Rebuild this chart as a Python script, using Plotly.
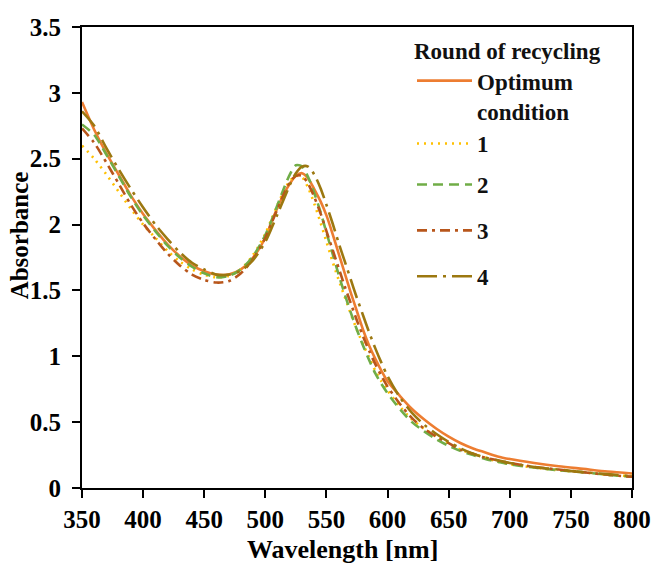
import plotly.graph_objects as go

# Wavelength grid (nm)
wavelength = [350, 360, 370, 380, 390, 400, 410, 420, 430, 440, 450, 460, 470, 480, 490, 500,
              505, 510, 515, 520, 525, 530, 535, 540, 545, 550, 555, 560, 565, 570, 575, 580,
              585, 590, 595, 600, 610, 620, 630, 640, 650, 660, 670, 680, 690, 700,
              720, 740, 760, 780, 800]

# Absorbance spectra
abs_optimum = [2.93, 2.72, 2.54, 2.38, 2.22, 2.08, 1.96, 1.85, 1.76, 1.69, 1.645, 1.62, 1.62, 1.66, 1.75, 1.90,
               2.02, 2.13, 2.23, 2.31, 2.37, 2.39, 2.35, 2.27, 2.18, 2.07, 1.93, 1.78, 1.63, 1.48, 1.34, 1.20,
               1.08, 0.98, 0.89, 0.81, 0.70, 0.60, 0.52, 0.45, 0.39, 0.34, 0.30, 0.27, 0.24, 0.22,
               0.19, 0.165, 0.145, 0.125, 0.11]
abs_round1 = [2.60, 2.50, 2.38, 2.25, 2.12, 2.00, 1.90, 1.80, 1.72, 1.66, 1.62, 1.60, 1.61, 1.66, 1.77, 1.93,
              2.04, 2.15, 2.25, 2.33, 2.37, 2.36, 2.28, 2.16, 2.02, 1.87, 1.72, 1.58, 1.45, 1.32, 1.20, 1.09,
              0.99, 0.89, 0.81, 0.74, 0.62, 0.52, 0.45, 0.39, 0.34, 0.29, 0.26, 0.23, 0.20, 0.18,
              0.155, 0.135, 0.12, 0.10, 0.09]
abs_round2 = [2.76, 2.68, 2.53, 2.37, 2.21, 2.07, 1.95, 1.84, 1.75, 1.68, 1.63, 1.60, 1.61, 1.66, 1.76, 1.92,
              2.03, 2.15, 2.27, 2.38, 2.45, 2.44, 2.36, 2.24, 2.10, 1.94, 1.78, 1.62, 1.47, 1.33, 1.20, 1.08,
              0.97, 0.87, 0.79, 0.72, 0.60, 0.50, 0.43, 0.37, 0.32, 0.28, 0.25, 0.22, 0.20, 0.18,
              0.155, 0.135, 0.12, 0.10, 0.085]
abs_round3 = [2.73, 2.62, 2.47, 2.31, 2.15, 2.01, 1.89, 1.78, 1.69, 1.62, 1.58, 1.56, 1.57, 1.63, 1.74, 1.90,
              2.01, 2.12, 2.23, 2.32, 2.37, 2.37, 2.31, 2.21, 2.09, 1.95, 1.81, 1.67, 1.53, 1.40, 1.27, 1.15,
              1.04, 0.94, 0.85, 0.77, 0.64, 0.53, 0.45, 0.39, 0.34, 0.29, 0.26, 0.23, 0.21, 0.19,
              0.16, 0.14, 0.12, 0.10, 0.085]
abs_round4 = [2.86, 2.75, 2.58, 2.42, 2.27, 2.13, 2.00, 1.89, 1.79, 1.71, 1.66, 1.62, 1.62, 1.65, 1.73, 1.87,
              1.97, 2.08, 2.19, 2.30, 2.39, 2.44, 2.44, 2.38, 2.28, 2.15, 2.01, 1.86, 1.72, 1.58, 1.44, 1.31,
              1.18, 1.06, 0.95, 0.85, 0.69, 0.57, 0.48, 0.41, 0.35, 0.30, 0.26, 0.23, 0.21, 0.19,
              0.16, 0.14, 0.12, 0.105, 0.09]

series_names = ["Optimum<br>condition", "1", "2", "3", "4"]
x_ticks = [350, 400, 450, 500, 550, 600, 650, 700, 750, 800]
y_ticks = [0, 0.5, 1, 1.5, 2, 2.5, 3, 3.5]
y_ticktext = ["0", "0.5", "1", "1.5", "2", "2.5", "3", "3.5"]

FONT = "Liberation Serif, Times New Roman, serif"

styles = [
    dict(color="#ED7D31", dash="solid"),
    dict(color="#FFC000", dash="2px,5px"),
    dict(color="#70AD47", dash="10px,6px"),
    dict(color="#B8561B", dash="10px,5px,3px,5px"),
    dict(color="#9C7810", dash="20px,6px,3px,6px"),
]
# first two entries sit under the legend title, the rest are spread out below
legend_ids = ["legend", "legend", "legend2", "legend2", "legend2"]

fig = go.Figure()
all_series = [abs_optimum, abs_round1, abs_round2, abs_round3, abs_round4]
for i, (name, ys, st, lg) in enumerate(zip(series_names, all_series, styles, legend_ids)):
    fig.add_trace(go.Scatter(
        x=wavelength, y=ys, mode="lines", name=name,
        legend=lg, legendgroup=f"g{i}",
        line=dict(color=st["color"], dash=st["dash"], width=2.6, shape="spline", smoothing=0.8),
    ))

tick_font = dict(family=FONT, size=25, color="black", weight="bold")
legend_font = dict(family=FONT, size=23, color="#111111", weight="bold")

fig.update_layout(
    width=652, height=565,
    margin=dict(l=82, r=20, t=27, b=77),
    paper_bgcolor="white", plot_bgcolor="white",
    showlegend=True,
    legend=dict(
        x=0.6, y=0.995, xanchor="left", yanchor="top",
        bgcolor="rgba(0,0,0,0)", font=legend_font,
        title=dict(text="Round of recycling", font=legend_font),
        tracegroupgap=0, valign="top", itemwidth=55,
    ),
    legend2=dict(
        x=0.6, y=0.705, xanchor="left", yanchor="top",
        bgcolor="rgba(0,0,0,0)", font=legend_font,
        tracegroupgap=13, valign="top", itemwidth=55,
    ),
    xaxis=dict(
        range=[350, 800], tickvals=x_ticks, ticks="outside", ticklen=8, tickwidth=1.5,
        tickcolor="black", showline=True, linecolor="black", linewidth=2, mirror=True,
        showgrid=False, zeroline=False, tickfont=tick_font, automargin=False,
    ),
    yaxis=dict(
        range=[0, 3.5], tickvals=y_ticks, ticktext=y_ticktext,
        ticks="outside", ticklen=8, tickwidth=1.5, ticklabelstandoff=6,
        tickcolor="black", showline=True, linecolor="black", linewidth=2, mirror=True,
        showgrid=False, zeroline=False, tickfont=tick_font, automargin=False,
    ),
    annotations=[
        dict(text="Wavelength [nm]", xref="paper", yref="paper", x=0.473, y=0, yshift=-61,
             xanchor="center", yanchor="middle", showarrow=False,
             font=dict(family=FONT, size=26, color="black", weight="bold")),
        dict(text="Absorbance", xref="paper", yref="paper", x=0, xshift=-63, y=0.548,
             xanchor="center", yanchor="middle", textangle=-90, showarrow=False,
             font=dict(family=FONT, size=25, color="black", weight="bold")),
    ],
)

fig.write_html("out.html")
